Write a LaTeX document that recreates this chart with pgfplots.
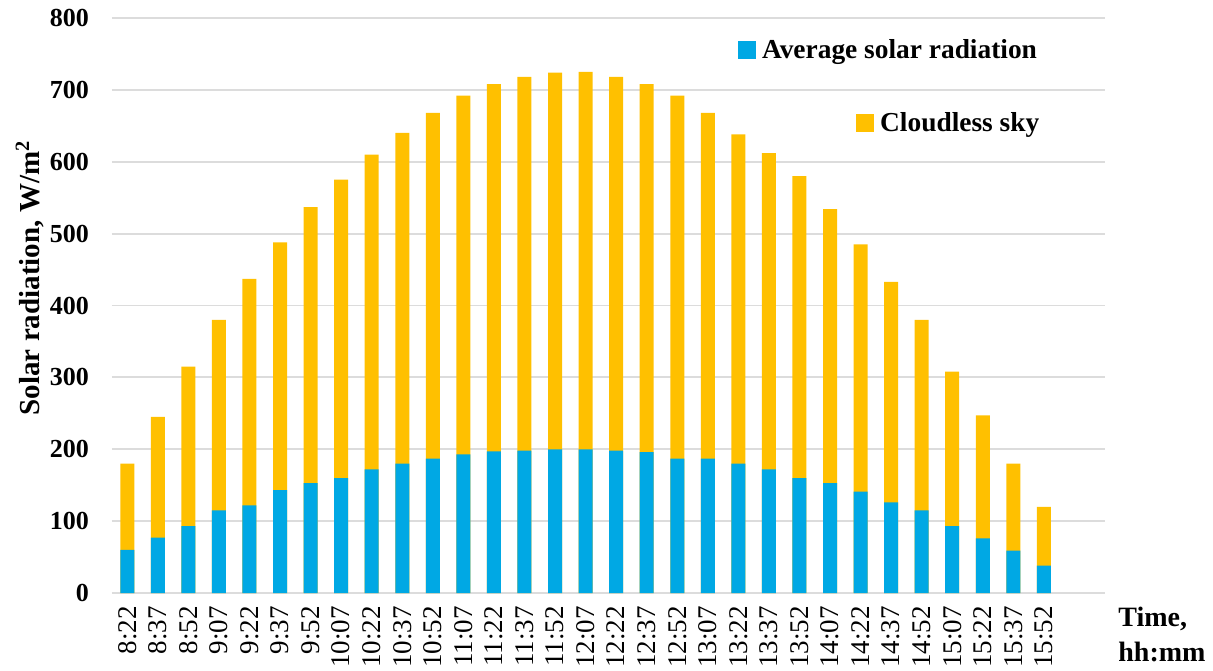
\documentclass[border=0pt]{standalone}
\usepackage{pgfplots}
\pgfplotsset{compat=1.18}
\usepackage{pgfplotstable}
\usepackage{fontspec}
\setmainfont{Liberation Serif}
\definecolor{avgblue}{RGB}{0,168,228}
\definecolor{skygold}{RGB}{255,192,0}
\definecolor{gridgray}{RGB}{220,220,220}
\pgfplotstableread{
idx sky avg
0 180 60
1 245 77
2 315 93
3 380 115
4 437 122
5 488 143
6 537 153
7 575 160
8 610 172
9 640 180
10 668 187
11 692 193
12 708 197
13 718 198
14 724 200
15 725 200
16 718 198
17 708 196
18 692 187
19 668 187
20 638 180
21 612 172
22 580 160
23 534 153
24 485 141
25 433 126
26 380 115
27 308 93
28 247 76
29 180 59
30 120 38
}\datatable
\pgfplotsset{
  sqlegend/.style={legend image code/.code={\fill[##1] (0pt,-4.5pt) rectangle (9pt,4.5pt);}},
}
\begin{document}
\begin{tikzpicture}[font=\fontsize{12.5}{15}\selectfont]
\begin{axis}[
  scale only axis,
  width=496.5pt, height=287.5pt,
  xmin=-0.5, xmax=32, ymin=0, ymax=800,
  enlargelimits=false,
  axis line style={draw=none},
  major tick length=0pt,
  ytick={0,100,...,800},
  ymajorgrids,
  grid style={gridgray, line width=0.9pt},
  yticklabel style={font=\fontsize{13}{15}\selectfont\bfseries},
  yticklabel shift=8pt,
  /pgf/number format/assume math mode=true,
  xtick=data,
  xticklabels={8:22,8:37,8:52,9:07,9:22,9:37,9:52,10:07,10:22,10:37,10:52,11:07,11:22,11:37,11:52,12:07,12:22,12:37,12:52,13:07,13:22,13:37,13:52,14:07,14:22,14:37,14:52,15:07,15:22,15:37,15:52},
  xticklabel style={rotate=90, anchor=east, font=\fontsize{13.5}{15}\selectfont},
  xticklabel shift=3pt,
  ylabel={Solar radiation, W/m$^{\mathbf{2}}$},
  ylabel style={at={(rel axis cs:-0.0826,0.548)}, anchor=center, font=\fontsize{14.5}{16}\selectfont\bfseries},
  legend style={at={(rel axis cs:0.628,0.944)}, anchor=west, draw=none, fill=white, inner sep=1pt,
    font=\fontsize{13.7}{16}\selectfont\bfseries,
    nodes={inner xsep=3pt}},
  sqlegend,
]
\addplot[ybar, bar width=7pt, bar shift=0pt, fill=skygold, draw=none, forget plot] table[x=idx, y=sky] {\datatable};
\addplot[ybar, bar width=7pt, bar shift=0pt, fill=avgblue, draw=none] table[x=idx, y=avg] {\datatable};
\addlegendentry{Average solar radiation}
\end{axis}
\begin{axis}[
  scale only axis,
  width=496.5pt, height=287.5pt,
  xmin=-0.5, xmax=32, ymin=0, ymax=800,
  hide axis,
  legend style={at={(rel axis cs:0.747,0.817)}, anchor=west, draw=none, fill=white, inner sep=1pt,
    font=\fontsize{13.7}{16}\selectfont\bfseries,
    nodes={inner xsep=3pt}},
  sqlegend,
]
\addlegendimage{fill=skygold, draw=none}
\addlegendentry{Cloudless sky}
\end{axis}
\node[anchor=north west, align=left, font=\fontsize{14}{17.5}\selectfont\bfseries, inner sep=0pt]
  at ([xshift=6.5pt,yshift=-7pt]current axis.south east) {Time,\\hh:mm};
\pgfresetboundingbox
\path (current axis.south west) ++(-56pt,-38.5pt) coordinate (bl);
\path (current axis.north east) ++(54pt,9pt) coordinate (tr);
\path[use as bounding box] (bl) rectangle (tr);
\end{tikzpicture}
\end{document}
